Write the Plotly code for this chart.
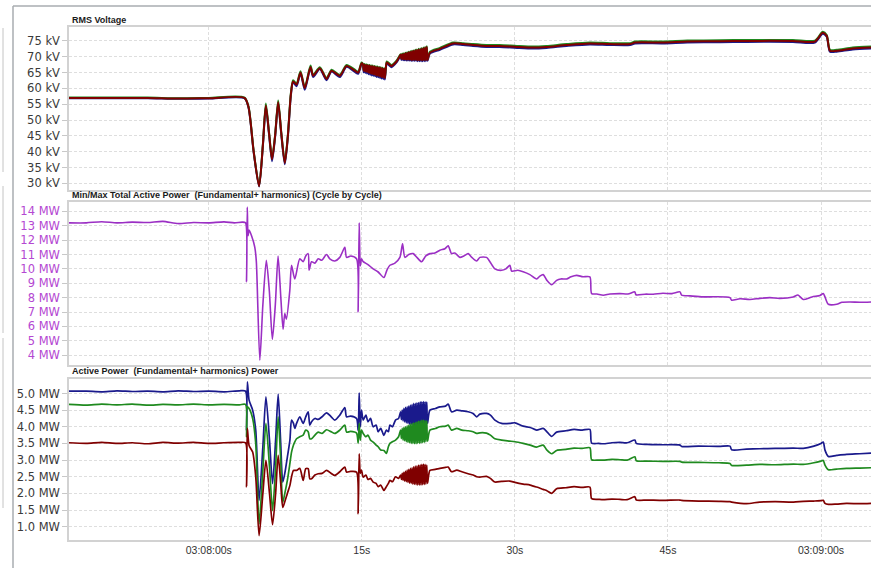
import plotly.graph_objects as go
from plotly.subplots import make_subplots

# ---------------- data ----------------
# time in seconds relative to 03:08:00
t_volt_a = [-13.7, -9.0, -6.0, -3.0, 0.0, 3.5, 3.9, 4.4, 4.93, 5.3, 5.59, 5.9, 6.2, 6.5, 6.8, 7.1, 7.45, 7.75,
            8.04, 8.26, 8.6, 8.99, 9.41, 9.97, 10.23, 10.88, 11.54, 12.03, 12.84, 13.5, 14.31, 14.64, 14.97]
v_red_a = [57.0, 57.0, 57.0, 56.8, 56.9, 57.0, 54.0, 40.0, 29.1, 42.0, 54.6, 46.0, 37.6, 45.0, 55.6, 46.0, 36.4, 45.0,
           58.0, 62.2, 61.2, 65.0, 60.1, 66.8, 64.0, 66.4, 63.0, 65.6, 64.0, 67.1, 65.6, 65.0, 67.9]
v_blue_a = [56.9, 56.9, 56.9, 56.7, 56.8, 56.9, 53.8, 39.8, 29.0, 41.8, 54.3, 45.6, 37.0, 44.7, 55.2, 45.6, 36.0, 44.6,
            57.6, 61.9, 60.7, 64.7, 59.6, 66.5, 63.6, 66.1, 62.6, 65.3, 63.6, 66.8, 65.2, 64.6, 67.6]
v_green_a = [57.1, 57.1, 57.1, 56.9, 57.0, 57.1, 54.2, 40.2, 29.3, 42.3, 55.2, 46.3, 37.9, 45.3, 56.2, 46.3, 36.7, 45.3,
             58.4, 62.6, 61.5, 65.4, 60.4, 67.2, 64.3, 66.7, 63.3, 65.9, 64.3, 67.4, 65.9, 65.3, 68.2]

t_band1 = [15.10, 15.18, 15.26, 15.34, 15.42, 15.50, 15.58, 15.66, 15.74, 15.82, 15.90, 15.98, 16.06, 16.14, 16.22,
           16.30, 16.38, 16.46, 16.54, 16.62, 16.70, 16.78, 16.86, 16.94, 17.02, 17.10, 17.18, 17.26, 17.34]
v_red_b1 = [67.6, 65.6, 67.5, 65.4, 67.4, 65.2, 67.3, 65.0, 67.2, 64.8, 67.1, 64.6, 67.0, 64.5, 66.9, 64.3, 66.8, 64.1,
            66.7, 64.0, 66.6, 63.8, 66.5, 63.6, 66.3, 63.5, 66.2, 63.3, 66.0]
v_blue_b1 = [67.3, 65.1, 67.2, 64.9, 67.1, 64.7, 67.0, 64.5, 66.9, 64.3, 66.8, 64.1, 66.7, 64.0, 66.6, 63.8, 66.5, 63.6,
             66.4, 63.5, 66.3, 63.3, 66.2, 63.1, 66.0, 63.0, 65.9, 62.8, 65.7]
v_green_b1 = [67.8, 65.8, 67.7, 65.6, 67.6, 65.4, 67.5, 65.2, 67.4, 65.0, 67.3, 64.8, 67.2, 64.7, 67.1, 64.5, 67.0, 64.3,
              66.9, 64.2, 66.8, 64.0, 66.7, 63.8, 66.5, 63.7, 66.4, 63.5, 66.2]

t_volt_b = [17.45, 17.9, 18.4, 18.65]
v_red_b = [68.2, 67.1, 68.5, 69.8]
v_blue_b = [67.9, 66.7, 68.2, 69.5]
v_green_b = [68.5, 67.4, 68.8, 70.1]

t_band2 = [18.80, 18.88, 18.96, 19.04, 19.12, 19.20, 19.28, 19.36, 19.44, 19.52, 19.60, 19.68, 19.76, 19.84, 19.92,
           20.00, 20.08, 20.16, 20.24, 20.32, 20.40, 20.48, 20.56, 20.64, 20.72, 20.80, 20.88, 20.96, 21.04, 21.12,
           21.20, 21.28, 21.36, 21.44]
v_red_b2 = [70.6, 69.3, 70.8, 69.2, 70.9, 69.2, 71.1, 69.1, 71.2, 69.1, 71.4, 69.1, 71.5, 69.0, 71.7, 69.0, 71.8, 69.0,
            72.0, 69.0, 72.1, 68.9, 72.3, 68.9, 72.4, 68.9, 72.6, 68.9, 72.7, 68.9, 72.9, 68.9, 73.1, 69.0]
v_blue_b2 = [70.3, 69.0, 70.5, 68.9, 70.6, 68.9, 70.8, 68.8, 70.9, 68.8, 71.1, 68.8, 71.2, 68.7, 71.4, 68.7, 71.5, 68.7,
             71.7, 68.7, 71.8, 68.6, 72.0, 68.6, 72.1, 68.6, 72.3, 68.6, 72.4, 68.6, 72.6, 68.6, 72.8, 68.7]
v_green_b2 = [70.8, 69.5, 71.0, 69.4, 71.1, 69.4, 71.3, 69.3, 71.4, 69.3, 71.6, 69.3, 71.7, 69.2, 71.9, 69.2, 72.0, 69.2,
              72.2, 69.2, 72.3, 69.1, 72.5, 69.1, 72.6, 69.1, 72.8, 69.1, 72.9, 69.1, 73.1, 69.1, 73.3, 69.2]

t_volt_c = [21.67, 22.65, 23.95, 24.93, 25.9, 27.2, 28.5, 30.2, 31.8, 33.1, 35.07, 37.35, 39.3, 41.3, 41.76,
            44.5, 46.9, 50.1, 52.7, 57.25, 59.4, 60.17, 60.56, 60.88, 61.54, 63.1, 64.9]
v_red_c = [71.3, 72.5, 74.2, 74.0, 73.7, 73.4, 73.4, 73.1, 72.9, 73.1, 73.7, 74.2, 74.0, 74.0, 74.5,
           74.5, 74.8, 74.9, 75.0, 75.0, 74.8, 77.6, 76.6, 71.9, 71.9, 72.6, 72.9]
v_blue_c = [71.0, 72.2, 73.9, 73.7, 73.4, 73.1, 73.1, 72.8, 72.6, 72.8, 73.4, 73.9, 73.7, 73.7, 74.2,
            74.2, 74.5, 74.6, 74.7, 74.7, 74.5, 77.3, 76.3, 71.6, 71.6, 72.3, 72.6]
v_green_c = [71.6, 72.8, 74.5, 74.3, 74.0, 73.7, 73.7, 73.4, 73.2, 73.4, 74.0, 74.5, 74.3, 74.3, 74.8,
             74.8, 75.1, 75.2, 75.3, 75.3, 75.1, 77.9, 76.9, 72.2, 72.2, 72.9, 73.2]

t_pmax = [-13.7, -12.0, -10.5, -9.0, -7.5, -6.0, -4.5, -3.0, -1.5, 0.0, 1.5, 2.5, 3.3, 3.6,
          3.7, 3.77, 3.85, 3.95, 4.19, 4.51, 4.66, 5.0, 5.3, 5.64, 5.93, 6.23, 6.52, 6.79, 7.06, 7.28, 7.45, 7.6,
          7.94, 8.11, 8.43, 8.92, 9.25, 9.5, 9.74, 9.83, 10.07, 10.4, 10.72, 11.08, 11.54, 11.86, 12.35, 12.84,
          13.33, 13.5, 13.92, 14.48, 14.64, 14.74, 14.85, 14.97, 15.13, 15.6, 16.11, 16.57, 17.16, 17.45, 17.75,
          18.24, 18.73, 18.99, 19.22, 19.6, 20.03, 20.4, 20.85, 21.27, 21.67, 22.16, 22.65, 23.14, 23.46, 23.79,
          24.12, 24.61, 25.0, 25.42, 25.78, 26.25, 26.57, 27.22, 27.55, 28.04, 28.7, 29.12, 29.51, 29.68, 30.29,
          30.81, 31.47, 32.13, 32.45, 32.77, 33.14, 33.6, 34.09, 34.5, 35.07, 35.5, 36.05, 36.67, 37.35, 37.52,
          38.04, 38.66, 39.31, 40.29, 41.08, 41.76, 41.86, 42.75, 43.56, 44.5, 45.39, 46.18, 46.34, 47.16, 48.46,
          49.6, 51.08, 51.24, 52.06, 53.04, 54.0, 54.98, 55.96, 57.28, 57.74, 58.26, 59.12, 59.9, 60.22, 60.39,
          60.72, 61.54, 62.06, 62.84, 63.82, 64.9]
p_max = [13.2, 13.2, 13.28, 13.2, 13.25, 13.22, 13.3, 13.15, 13.22, 13.2, 13.27, 13.2, 13.25, 13.2,
         9.1, 14.3, 12.3, 12.7, 12.3, 11.5, 10.5, 3.65, 7.5, 10.6, 8.5, 5.1, 7.5, 10.9, 8.0, 5.8, 6.9, 6.5,
         8.5, 10.25, 9.3, 10.7, 10.5, 10.9, 11.06, 9.9, 10.5, 10.4, 10.7, 10.6, 11.0, 10.7, 10.55, 10.8,
         11.5, 10.8, 10.9, 10.7, 7.0, 13.2, 10.2, 10.7, 10.5, 10.3, 10.0, 9.8, 9.4, 9.9, 10.25,
         10.4, 10.8, 11.75, 10.8, 11.0, 11.06, 10.8, 10.5, 10.9, 11.06, 11.1, 11.3, 11.4, 11.6, 11.06,
         11.1, 10.8, 10.9, 11.06, 10.8, 10.55, 10.8, 10.8, 10.5, 10.0, 9.9, 10.0, 10.25, 9.85, 9.9,
         9.8, 9.6, 9.3, 9.5, 9.6, 9.2, 8.9, 9.2, 9.3, 9.3, 9.45, 9.55, 9.45, 9.44, 8.28,
         8.25, 8.17, 8.25, 8.28, 8.25, 8.4, 8.2, 8.24, 8.24, 8.3, 8.28, 8.4, 8.17, 8.12, 8.05,
         8.06, 8.0, 7.82, 7.92, 7.87, 7.95, 8.0, 7.95, 8.05, 8.18, 7.87, 8.05, 8.15, 8.28, 8.05,
         7.54, 7.54, 7.68, 7.7, 7.68, 7.7]

t_ap_a = [-13.7, -12.0, -10.5, -9.0, -7.5, -6.0, -4.5, -3.0, -1.5, 0.0, 1.5, 3.0, 3.6, 3.7, 3.78, 3.95, 4.3, 4.6,
          4.93, 5.3, 5.6, 5.95, 6.25, 6.55, 6.8, 7.05, 7.25, 7.45, 7.7, 7.95, 8.11, 8.3, 8.43, 8.6, 8.92, 9.25,
          9.5, 9.74, 9.9, 10.07, 10.4, 10.72, 11.1, 11.54, 12.0, 12.35, 12.84, 13.33, 13.5, 13.9, 14.48, 14.64,
          14.74, 14.85, 14.97, 15.13, 15.4, 15.6, 15.85, 16.11, 16.4, 16.6, 16.85, 17.16, 17.4, 17.6, 17.75,
          18.0, 18.3, 18.6]
ap_blue_a = [5.07, 5.07, 5.05, 5.08, 5.06, 5.07, 5.05, 5.08, 5.06, 5.07, 5.05, 5.08, 5.07, 3.9, 5.35, 4.8, 4.5, 3.9,
             1.79, 3.4, 4.9, 3.6, 2.29, 3.6, 4.98, 3.5, 2.34, 2.6, 3.09, 3.6, 4.2, 4.1, 3.95, 4.1, 4.3, 4.1,
             4.3, 4.45, 4.05, 4.15, 4.25, 4.22, 4.3, 4.42, 4.3, 4.2, 4.35, 4.58, 4.3, 4.32, 4.25, 3.9,
             5.02, 4.0, 4.5, 4.2, 4.35, 4.15, 4.25, 4.0, 4.05, 3.85, 3.95, 3.74, 3.9, 3.85, 4.05,
             4.0, 4.2, 4.25]
ap_green_a = [4.67, 4.65, 4.68, 4.66, 4.68, 4.65, 4.67, 4.66, 4.68, 4.66, 4.67, 4.66, 4.67, 3.7, 4.6, 4.55, 4.25, 3.5,
              1.08, 2.7, 4.1, 2.8, 1.48, 2.8, 4.3, 3.0, 1.73, 2.0, 2.39, 2.9, 3.24, 3.45, 3.55, 3.64, 3.7, 3.75,
              3.9, 3.85, 3.64, 3.64, 3.75, 3.84, 3.8, 3.91, 3.85, 3.8, 3.9, 4.05, 3.84, 3.86, 3.81, 3.5,
              4.1, 3.6, 3.9, 3.8, 3.7, 3.75, 3.6, 3.54, 3.45, 3.4, 3.3, 3.29, 3.2, 3.4, 3.5,
              3.55, 3.6, 3.7]
ap_red_a = [3.52, 3.5, 3.53, 3.5, 3.52, 3.49, 3.53, 3.51, 3.53, 3.5, 3.52, 3.53, 3.52, 2.2, 3.95, 3.44, 3.24, 2.5,
            0.73, 2.0, 2.99, 2.0, 1.06, 2.0, 3.14, 2.3, 1.58, 1.75, 2.0, 2.24, 2.5, 2.69, 2.69, 2.69, 2.75, 2.39,
            2.74, 2.74, 2.44, 2.44, 2.55, 2.59, 2.6, 2.69, 2.6, 2.54, 2.65, 2.79, 2.64, 2.66, 2.64, 1.39,
            3.19, 2.6, 2.7, 2.49, 2.55, 2.42, 2.45, 2.34, 2.3, 2.2, 2.25, 2.09, 2.2, 2.3, 2.39,
            2.35, 2.5, 2.45]

t_ap_band = [18.80, 18.88, 18.96, 19.04, 19.12, 19.20, 19.28, 19.36, 19.44, 19.52, 19.60, 19.68, 19.76, 19.84, 19.92,
             20.00, 20.08, 20.16, 20.24, 20.32, 20.40, 20.48, 20.56, 20.64, 20.72, 20.80, 20.88, 20.96, 21.04, 21.12,
             21.20, 21.28, 21.36, 21.44]
ap_blue_band = [4.45, 4.22, 4.5, 4.18, 4.55, 4.15, 4.58, 4.12, 4.6, 4.1, 4.62, 4.08, 4.65, 4.07, 4.67, 4.06, 4.7, 4.05,
                4.7, 4.05, 4.72, 4.04, 4.73, 4.05, 4.75, 4.05, 4.75, 4.06, 4.76, 4.07, 4.75, 4.08, 4.74, 4.1]
ap_green_band = [3.9, 3.65, 3.95, 3.6, 3.98, 3.58, 4.0, 3.55, 4.03, 3.53, 4.05, 3.52, 4.08, 3.5, 4.1, 3.5, 4.12, 3.49,
                 4.13, 3.49, 4.15, 3.5, 4.17, 3.5, 4.18, 3.51, 4.2, 3.52, 4.2, 3.53, 4.19, 3.55, 4.18, 3.57]
ap_red_band = [2.55, 2.42, 2.6, 2.4, 2.63, 2.37, 2.66, 2.35, 2.7, 2.33, 2.72, 2.31, 2.75, 2.3, 2.77, 2.28, 2.8, 2.27,
               2.82, 2.26, 2.83, 2.25, 2.85, 2.25, 2.86, 2.25, 2.87, 2.26, 2.88, 2.27, 2.87, 2.28, 2.85, 2.3]

t_ap_c = [21.67, 22.2, 22.65, 23.2, 23.46, 23.79, 24.3, 24.8, 25.42, 25.9, 26.25, 26.57, 27.22, 27.6, 28.04,
          28.7, 29.5, 30.0, 30.81, 31.5, 32.13, 32.77, 33.14, 33.6, 34.09, 35.0, 35.8, 36.6, 37.35, 37.52,
          38.2, 38.66, 39.5, 40.3, 41.0, 41.76, 41.9, 43.0, 44.5, 46.18, 46.34, 48.0, 50.0, 51.08, 51.24,
          52.7, 54.0, 55.5, 57.3, 58.26, 59.3, 60.0, 60.22, 60.39, 60.72, 61.54, 62.5, 63.8, 64.9]
ap_blue_c = [4.5, 4.55, 4.6, 4.62, 4.68, 4.45, 4.5, 4.48, 4.45, 4.4, 4.3, 4.38, 4.4, 4.35, 4.2,
             4.1, 4.1, 4.12, 4.02, 3.98, 3.9, 3.95, 3.85, 3.71, 3.84, 3.88, 3.92, 3.9, 3.92, 3.51,
             3.5, 3.49, 3.52, 3.53, 3.52, 3.6, 3.5, 3.47, 3.46, 3.45, 3.41, 3.42, 3.41, 3.42, 3.31,
             3.33, 3.34, 3.35, 3.36, 3.35, 3.42, 3.5, 3.54, 3.3, 3.11, 3.14, 3.17, 3.19, 3.21]
ap_green_c = [3.9, 3.95, 4.0, 4.02, 4.05, 3.9, 3.95, 3.9, 3.88, 3.85, 3.8, 3.82, 3.81, 3.75, 3.64,
              3.6, 3.57, 3.55, 3.5, 3.45, 3.39, 3.45, 3.3, 3.19, 3.29, 3.32, 3.36, 3.35, 3.37, 3.01,
              3.0, 3.0, 3.02, 3.01, 3.0, 3.1, 2.98, 2.97, 2.96, 2.96, 2.94, 2.93, 2.92, 2.9, 2.84,
              2.85, 2.87, 2.86, 2.88, 2.87, 2.92, 2.97, 2.99, 2.85, 2.71, 2.73, 2.75, 2.76, 2.77]
ap_red_c = [2.69, 2.72, 2.75, 2.78, 2.79, 2.65, 2.7, 2.65, 2.59, 2.55, 2.5, 2.49, 2.51, 2.45, 2.34,
            2.36, 2.37, 2.33, 2.28, 2.25, 2.19, 2.12, 2.08, 2.0, 2.14, 2.17, 2.2, 2.18, 2.19, 1.84,
            1.82, 1.81, 1.83, 1.82, 1.81, 1.9, 1.8, 1.8, 1.79, 1.8, 1.79, 1.77, 1.76, 1.75, 1.74,
            1.69, 1.74, 1.75, 1.74, 1.76, 1.77, 1.78, 1.79, 1.7, 1.67, 1.68, 1.7, 1.69, 1.7]

x_tickvals = [0, 15, 30, 45, 60]
x_ticktext = ["03:08:00s", "15s", "30s", "45s", "03:09:00s"]
kv_ticks = [30, 35, 40, 45, 50, 55, 60, 65, 70, 75]
mw_ticks = [4, 5, 6, 7, 8, 9, 10, 11, 12, 13, 14]
ap_ticks = [1.0, 1.5, 2.0, 2.5, 3.0, 3.5, 4.0, 4.5, 5.0]
panel_titles = ["RMS Voltage",
                "Min/Max Total Active Power&nbsp; (Fundamental+ harmonics) (Cycle by Cycle)",
                "Active Power&nbsp; (Fundamental+ harmonics) Power"]

t_volt = t_volt_a + t_band1 + t_volt_b + t_band2 + t_volt_c
v_red = v_red_a + v_red_b1 + v_red_b + v_red_b2 + v_red_c
v_blue = v_blue_a + v_blue_b1 + v_blue_b + v_blue_b2 + v_blue_c
v_green = v_green_a + v_green_b1 + v_green_b + v_green_b2 + v_green_c
t_ap = t_ap_a + t_ap_band + t_ap_c
ap_blue = ap_blue_a + ap_blue_band + ap_blue_c
ap_green = ap_green_a + ap_green_band + ap_green_c
ap_red = ap_red_a + ap_red_band + ap_red_c

# ---------------- figure ----------------
BLUE = "#1a1a8c"
GREEN = "#1f8a1f"
RED = "#800000"
PURPLE = "#9b2fc4"
PURPLE_TXT = "#b448d2"

fig = make_subplots(rows=3, cols=1, shared_xaxes=True)


def ln(color, width):
    return dict(color=color, width=width, shape="spline", smoothing=0.7)


fig.add_trace(go.Scatter(x=t_volt, y=v_blue, mode="lines", line=ln(BLUE, 2)), row=1, col=1)
fig.add_trace(go.Scatter(x=t_volt, y=v_green, mode="lines", line=ln(GREEN, 2)), row=1, col=1)
fig.add_trace(go.Scatter(x=t_volt, y=v_red, mode="lines", line=ln(RED, 2)), row=1, col=1)
fig.add_trace(go.Scatter(x=t_pmax, y=p_max, mode="lines", line=ln(PURPLE, 1.6)), row=2, col=1)
fig.add_trace(go.Scatter(x=t_ap, y=ap_blue, mode="lines", line=ln(BLUE, 1.7)), row=3, col=1)
fig.add_trace(go.Scatter(x=t_ap, y=ap_green, mode="lines", line=ln(GREEN, 1.7)), row=3, col=1)
fig.add_trace(go.Scatter(x=t_ap, y=ap_red, mode="lines", line=ln(RED, 1.7)), row=3, col=1)

L, R, T, B = 69, 0, 27, 28
W, H = 871, 568
ph = H - T - B


def py(pix):
    return (H - B - pix) / ph


def px(pix):
    return (pix - L) / (W - L - R)


doms = [[py(190), 1.0], [py(364.5), py(202)], [0.0, py(378.5)]]

grid = dict(showgrid=True, gridcolor="#dedede", griddash="3px,2px", gridwidth=1,
            showline=True, linecolor="#d2d2d2", linewidth=1.5, mirror=True, zeroline=False,
            automargin=False)

fig.update_xaxes(range=[-13.7, 64.9], tickvals=x_tickvals, ticktext=x_ticktext, ticks="",
                 tickfont=dict(family="Liberation Sans", size=10.5, color="#333333"), **grid)

fig.update_layout(
    yaxis=dict(domain=doms[0], range=[27.9, 79.4], tickvals=kv_ticks,
               ticktext=[f"{v} kV" for v in kv_ticks], tickfont=dict(color="#3a3a3a")),
    yaxis2=dict(domain=doms[1], range=[3.35, 14.65], tickvals=mw_ticks,
                ticktext=[f"{v} MW" for v in mw_ticks], tickfont=dict(color=PURPLE_TXT)),
    yaxis3=dict(domain=doms[2], range=[0.6, 5.45], tickvals=ap_ticks,
                ticktext=[f"{v:.1f} MW" for v in ap_ticks], tickfont=dict(color="#3a3a3a")),
)
fig.update_yaxes(ticks="outside", ticklen=5, tickcolor="#c8c8c8", **grid)
for ax in ["yaxis", "yaxis2", "yaxis3"]:
    fig.layout[ax].tickfont.family = "DejaVu Sans"
    fig.layout[ax].tickfont.size = 11.5

for i, txt in enumerate(panel_titles):
    fig.add_annotation(text="<b>" + txt + "</b>", xref="paper", yref="paper", x=px(70), y=doms[i][1],
                       xanchor="left", yanchor="bottom", yshift=0, showarrow=False,
                       font=dict(family="Liberation Sans", size=9, color="#1a1a1a"))

# outer frame lines of the window
shape_line = dict(color="#a8acb0", width=1.5)
fig.add_shape(type="line", xref="paper", yref="paper", x0=px(13), x1=px(871), y0=py(6), y1=py(6), line=shape_line)
fig.add_shape(type="line", xref="paper", yref="paper", x0=px(13), x1=px(13), y0=py(6), y1=py(568), line=shape_line)
for y0, y1 in [(28, 172), (186, 333), (338, 508)]:
    fig.add_shape(type="line", xref="paper", yref="paper", x0=px(3), x1=px(3), y0=py(y0), y1=py(y1),
                  line=dict(color="#c4c4c4", width=1))

fig.update_layout(
    width=W, height=H, margin=dict(l=L, r=R, t=T, b=B, autoexpand=False),
    paper_bgcolor="white", plot_bgcolor="white", showlegend=False,
    hovermode=False, font=dict(family="DejaVu Sans"),
)

fig.write_html("out.html", config={"displayModeBar": False},
               post_script="document.body.style.margin='0';document.body.style.overflow='hidden';")
